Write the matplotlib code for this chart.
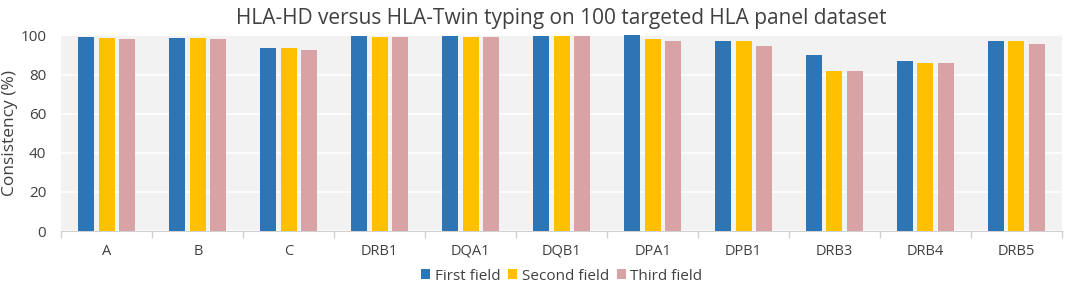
import numpy as np
import matplotlib.pyplot as plt

LOCI = ['A', 'B', 'C', 'DRB1', 'DQA1', 'DQB1', 'DPA1', 'DPB1', 'DRB3', 'DRB4', 'DRB5']
FIRST = [99.3, 98.8, 93.5, 99.7, 99.7, 99.5, 100.0, 97.1, 90.1, 87.0, 97.4]
SECOND = [98.8, 98.8, 93.5, 99.1, 99.1, 99.5, 98.0, 97.1, 81.6, 86.0, 97.4]
THIRD = [98.1, 98.1, 92.5, 99.1, 99.1, 99.5, 97.1, 94.5, 81.6, 86.0, 95.6]
SERIES = ['First field', 'Second field', 'Third field']
COLORS = ['#2E75B6', '#FFC000', '#D9A3A5']
FONT = ['Open Sans', 'DejaVu Sans']


def main():
    plt.rcParams['font.family'] = FONT
    fig = plt.figure(figsize=(10.65, 2.86), dpi=100)
    ax = fig.add_axes([0.0577, 0.192, 0.9393, 0.684])
    ax.set_facecolor('#F2F2F2')

    x = np.arange(len(LOCI))
    w = 0.176
    step = 0.225
    for i, (vals, name, col) in enumerate(zip([FIRST, SECOND, THIRD], SERIES, COLORS)):
        ax.bar(x + (i - 1) * step, vals, w, color=col, label=name, zorder=3)

    ax.set_xlim(-0.5, len(LOCI) - 0.5)
    ax.set_ylim(0, 100)
    ax.set_yticks(range(0, 101, 20))
    ax.yaxis.grid(True, color='white', linewidth=1.2, zorder=0)
    ax.set_xticks(x)
    ax.set_xticklabels(LOCI)
    ax.set_xticks(np.arange(-0.5, len(LOCI), 1), minor=True)
    ax.tick_params(axis='x', which='major', length=0, pad=9, labelsize=10.5, labelcolor='#404040')
    ax.tick_params(axis='x', which='minor', length=5, color='#D0D0D0', width=1)
    ax.tick_params(axis='y', length=0, pad=11, labelsize=11, labelcolor='#404040')
    for side in ['top', 'right', 'left']:
        ax.spines[side].set_visible(False)
    ax.spines['bottom'].set_color('#D0D0D0')

    ax.set_ylabel('Consistency (%)', fontsize=12.5, color='#404040')
    ax.yaxis.set_label_coords(-0.0435, 0.5)
    ax.set_title('HLA-HD versus HLA-Twin typing on 100 targeted HLA panel dataset',
                 fontsize=15, color='#404040', pad=8)
    ax.legend(loc='center', bbox_to_anchor=(0.5, -0.23), ncol=3, frameon=False,
              fontsize=11, handlelength=0.6, handleheight=0.6, handletextpad=0.3,
              columnspacing=0.5, labelcolor='#404040', borderpad=0)

    fig.savefig('out.png', dpi=100)


if __name__ == '__main__':
    main()
